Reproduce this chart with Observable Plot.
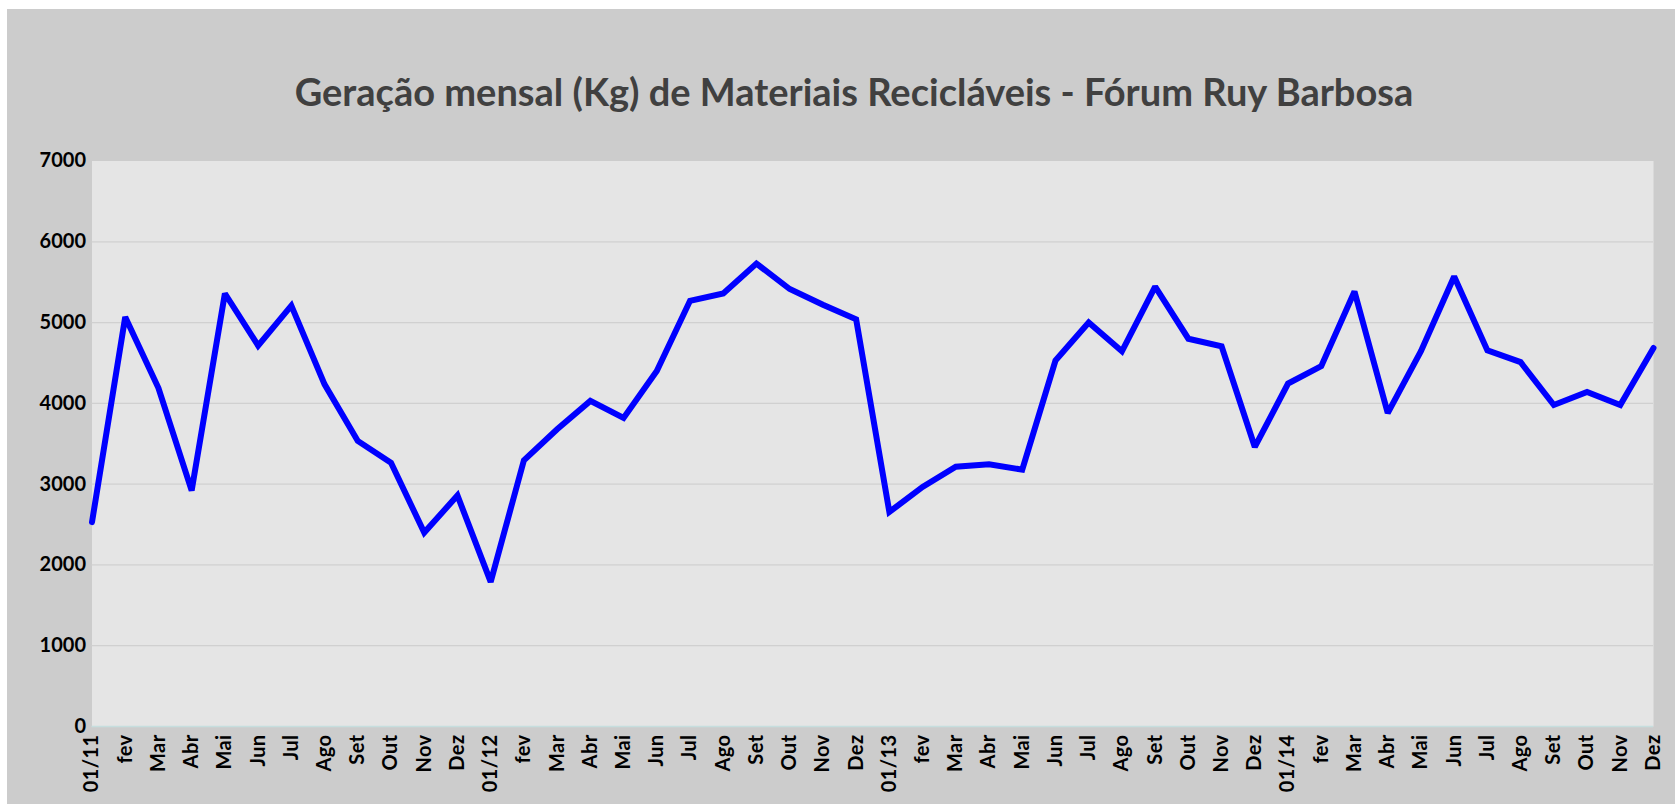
<!DOCTYPE html>
<html>
<head>
<meta charset="utf-8">
<script src="https://cdn.jsdelivr.net/npm/d3@7"></script>
<script src="https://cdn.jsdelivr.net/npm/@observablehq/plot@0.6"></script>
<style>
  html, body { margin: 0; padding: 0; background: #ffffff; }
  #wrap { position: relative; width: 1677px; height: 804px; overflow: hidden; }
  #panel { position: absolute; left: 7px; top: 9px; width: 1668px; height: 795px; background: #cccccc; }
  #title { position: absolute; left: 0; top: 68px; width: 1708px; text-align: center;
           font-family: Lato, "Open Sans", sans-serif; font-weight: bold; font-size: 38px; color: #404040; }
  #chart { position: absolute; left: 0; top: 0; }
  #chart svg { background: transparent !important; }
  #chart svg g[aria-label="x-axis tick label"] text { letter-spacing: 0.4px; }
</style>
</head>
<body>
<div id="wrap">
  <div id="panel"></div>
  <div id="title">Geração mensal (Kg) de Materiais Recicláveis - Fórum Ruy Barbosa</div>
  <div id="chart"></div>
</div>
<script>
const monthLabels = [
  "01/11","fev","Mar","Abr","Mai","Jun","Jul","Ago","Set","Out","Nov","Dez",
  "01/12","fev","Mar","Abr","Mai","Jun","Jul","Ago","Set","Out","Nov","Dez",
  "01/13","fev","Mar","Abr","Mai","Jun","Jul","Ago","Set","Out","Nov","Dez",
  "01/14","fev","Mar","Abr","Mai","Jun","Jul","Ago","Set","Out","Nov","Dez"
];
const kgValues = [
  2530, 5070, 4190, 2920, 5360, 4715, 5210, 4235, 3535, 3265, 2400, 2860,
  1790, 3295, 3680, 4030, 3820, 4400, 5270, 5360, 5730, 5415, 5220, 5040,
  2655, 2965, 3215, 3245, 3180, 4530, 5000, 4645, 5445, 4800, 4705, 3460,
  4245, 4460, 5385, 3880, 4645, 5570, 4655, 4510, 3980, 4140, 3980, 4685
];
const yTicks = [0, 1000, 2000, 3000, 4000, 5000, 6000, 7000];

const data = kgValues.map((v, i) => ({i, v}));
const font = "Lato, 'Open Sans', sans-serif";

const chart = Plot.plot({
  width: 1677,
  height: 804,
  marginTop: 160.5,
  marginBottom: 78,
  marginLeft: 91.5,
  marginRight: 24,
  style: {background: "transparent", fontFamily: font},
  x: {type: "linear", domain: [0, kgValues.length - 1]},
  y: {domain: [0, 7000]},
  marks: [
    Plot.frame({fill: "#e5e5e5", stroke: null}),
    Plot.gridY(yTicks.filter(t => t > 0 && t < 7000), {stroke: "#d0d0d0", strokeOpacity: 1, strokeWidth: 1.2}),
    Plot.ruleY([0], {stroke: "#c6dede", strokeWidth: 1.5}),
    Plot.axisY(yTicks, {tickSize: 0, tickPadding: 6, fontSize: 20, fontWeight: "bold", fill: "#000", label: null,
      tickFormat: d => String(d)}),
    Plot.axisX(d3.range(monthLabels.length), {
      tickSize: 0, tickPadding: 8, tickRotate: -90,
      tickFormat: i => monthLabels[i],
      fontSize: 20, fontWeight: "bold", fill: "#000", label: null
    }),
    Plot.line(data, {x: "i", y: "v", stroke: "#0000ff", strokeWidth: 6, strokeLinejoin: "miter", strokeMiterlimit: 2})
  ]
});
document.getElementById("chart").appendChild(chart);
</script>
</body>
</html>
